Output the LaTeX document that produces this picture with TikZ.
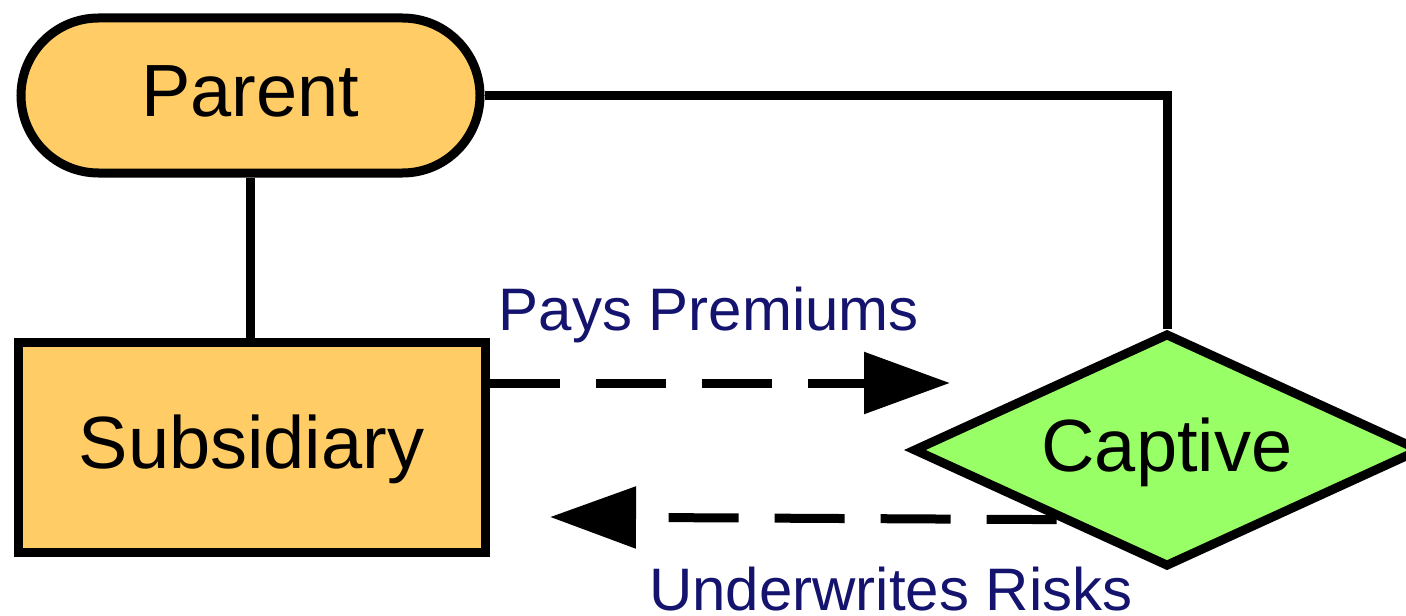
\documentclass[tikz,border=0pt]{standalone}
\usepackage{fontspec}
\setmainfont{Liberation Sans}
\usetikzlibrary{shapes.geometric,arrows.meta,calc}

\definecolor{boxorange}{HTML}{FFCC66}
\definecolor{captivegreen}{HTML}{99FF66}
\definecolor{labelnavy}{RGB}{20,20,110}

\tikzset{
  link/.style={draw=black, line width=4.5pt},
  flow/.style={link, dash pattern=on 35pt off 18pt,
    -{Triangle[length=43pt,width=30pt]}},
  entity/.style={draw=black, line width=4.5pt, inner sep=0pt,
    font=\fontsize{37}{44}\selectfont, text height=26.5pt, text depth=5pt},
  flowlabel/.style={anchor=base, inner sep=0pt, text=labelnavy,
    text depth=0pt, font=\fontsize{30}{36}\selectfont},
}

\begin{document}
\begin{tikzpicture}[x=0.5pt, y=-0.5pt]
  \useasboundingbox (0,0) rectangle (1406,615);
  \clip (0,0) rectangle (1406,615);

  % entities
  \node[entity, fill=boxorange, rectangle, rounded corners=38.75pt,
        minimum width=229.5pt, minimum height=77.5pt] (parent) at (250.5,95.5) {Parent};
  \node[entity, fill=boxorange, rectangle,
        minimum width=233.5pt, minimum height=105pt] (sub) at (251.5,447) {Subsidiary};
  \node[entity, fill=captivegreen, diamond, aspect=2.17,
        minimum width=254pt, minimum height=117pt] (captive) at (1167,450) {Captive};

  % ownership links
  \draw[link] (parent.south) -- (parent.south |- sub.north);
  \draw[link] (parent.east) -| (captive.north);

  % money and risk flows
  \coordinate (premtip) at (950,383);
  \coordinate (risktip) at (550,517);
  \coordinate (riskstart) at ($(captive.west)!0.573!(captive.south)$);
  \draw[flow] (sub.east |- premtip) -- (premtip);
  \draw[flow] (riskstart) -- (risktip);

  \node[flowlabel] (pays) at (709,330) {Pays Premiums};
  \node[flowlabel] (under) at (891,610) {Underwrites Risks};
\end{tikzpicture}
\end{document}
